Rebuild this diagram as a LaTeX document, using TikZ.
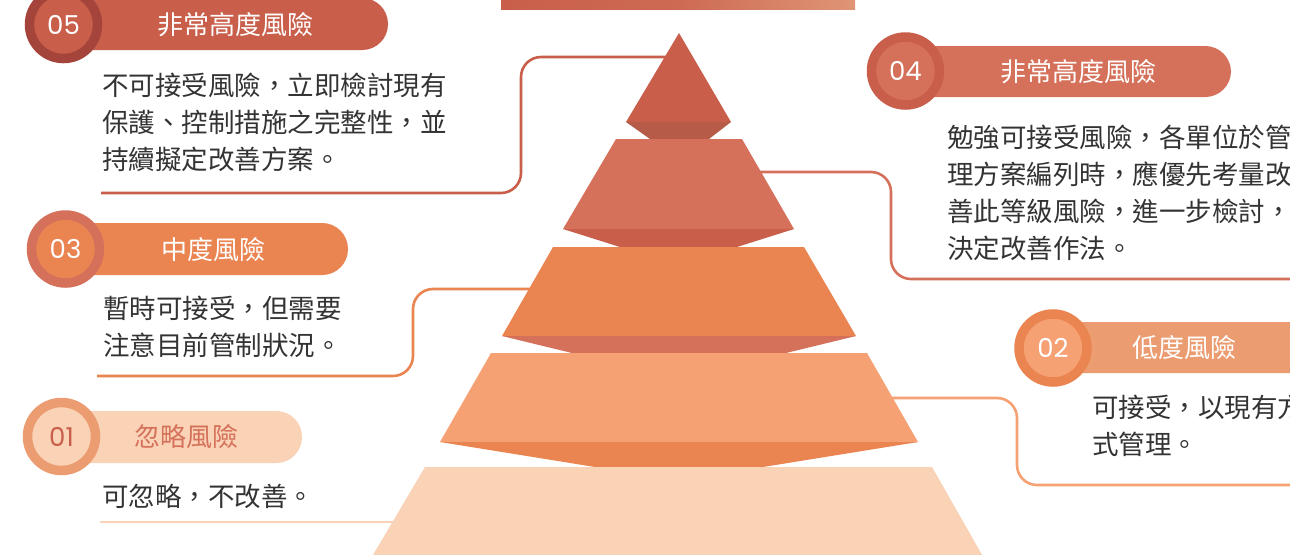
\documentclass[tikz,border=0pt]{standalone}
\usepackage{fontspec}
\setmainfont{Noto Sans CJK TC}
\newfontfamily\numfont{Poppins}
\usetikzlibrary{positioning}

\definecolor{lvfive}{HTML}{C95F4B}
\definecolor{lvfivedk}{HTML}{B65B48}
\definecolor{lvring}{HTML}{A4443A}
\definecolor{lvfour}{HTML}{D5715A}
\definecolor{lvthree}{HTML}{EA8552}
\definecolor{lvtwo}{HTML}{F6A174}
\definecolor{lvtwopill}{HTML}{EC9C71}
\definecolor{lvone}{HTML}{FAD2B6}
\definecolor{barend}{HTML}{DF9576}
\definecolor{ink}{HTML}{333333}

\begin{document}
\begin{tikzpicture}[
  x=0.5pt, y=-0.5pt,
  badge/.style={circle, minimum size=34pt, line width=4.75pt, inner sep=0pt,
                font=\numfont\fontsize{13pt}{13pt}\selectfont, text=white},
  pill/.style={rectangle, rounded corners=12.9pt, minimum height=26pt, inner sep=0pt},
  title/.style={inner sep=0pt, text=white, font=\fontsize{13pt}{13pt}\selectfont},
  desc/.style={anchor=north west, align=left, inner sep=0pt, text=ink,
               font=\fontsize{13.25pt}{18.5pt}\selectfont},
  conn/.style={line width=1.3pt, rounded corners=10pt},
]
  \fill[white] (0,0) rectangle (1290,554);
  \clip (0,0) rectangle (1290,554);

  % connector end points
  \coordinate (t5) at (679,57);
  \coordinate (k5) at (521,193);
  \coordinate (e5) at (101,193);
  \coordinate (t4) at (700,172);
  \coordinate (k4) at (891,279);
  \coordinate (e4) at (1300,279);
  \coordinate (t3) at (679,289);
  \coordinate (k3) at (413,376);
  \coordinate (e3) at (97,376);
  \coordinate (t2) at (679,398);
  \coordinate (k2) at (1017,485);
  \coordinate (e2) at (1300,485);
  \coordinate (t1) at (679,522);
  \coordinate (e1) at (100,522);

  \draw[conn, lvfive] (t5) -| (k5) -- (e5);
  \draw[conn, lvfour] (t4) -| (k4) -- (e4);
  \draw[conn, lvthree] (t3) -| (k3) -- (e3);
  \draw[conn, lvtwo] (t2) -| (k2) -- (e2);
  \draw[conn, lvone] (t1) -- (e1);

  % pyramid
  \fill[lvfive] (679,33) -- (731,122) -- (626,122) -- cycle;
  \fill[lvfivedk] (626,122) -- (731,122) -- (709,139) -- (650,139) -- cycle;
  \fill[lvfour] (616,139) -- (742,139) -- (794,229) -- (563,229) -- cycle;
  \fill[lvfive] (563,229) -- (794,229) -- (737,247) -- (620,247) -- cycle;
  \fill[lvthree] (553,247) -- (804,247) -- (856,336) -- (502,336) -- cycle;
  \fill[lvfour] (502,336) -- (856,336) -- (786,353) -- (572,353) -- cycle;
  \fill[lvtwo] (491,353) -- (867,353) -- (918,442) -- (440,442) -- cycle;
  \fill[lvthree] (440,442) -- (918,442) -- (763,467) -- (595,467) -- cycle;
  \fill[lvone] (425,467) -- (932,467) -- (985,560) -- (370,560) -- cycle;

  \shade[left color=lvfive, right color=barend, middle color=lvfive!80!barend]
    (501,-5) rectangle (855,9);

  % labels
  \node[pill, fill=lvfive, minimum width=174pt] (p5) at (214,24) {};
  \node[badge, fill=lvfive, draw=lvring] (b5) at (63.5,24.5) {05};
  \node[title] (h5) at (235,25) {非常高度風險};
  \node[desc] (d5) at (102,73) {不可接受風險，立即檢討現有\\保護、控制措施之完整性，並\\持續擬定改善方案。};

  \node[pill, fill=lvfour, minimum width=163pt, minimum height=25.5pt] (p4) at (1068,71.5) {};
  \node[badge, fill=lvfour, draw=lvfive] (b4) at (905.5,71) {04};
  \node[title] (h4) at (1078,72) {非常高度風險};
  \node[desc] (d4) at (947,125) {勉強可接受風險，各單位於管\\理方案編列時，應優先考量改\\善此等級風險，進一步檢討，\\決定改善作法。};

  \node[pill, fill=lvthree, minimum width=141.5pt] (p3) at (206.5,249) {};
  \node[badge, fill=lvthree, draw=lvfour] (b3) at (65.5,249) {03};
  \node[title] (h3) at (213,250) {中度風險};
  \node[desc] (d3) at (103,296) {暫時可接受，但需要\\注意目前管制狀況。};

  \node[pill, fill=lvtwopill, minimum width=143.5pt, minimum height=25.5pt] (p2) at (1196.5,347.5) {};
  \node[badge, fill=lvtwo, draw=lvthree] (b2) at (1053,348) {02};
  \node[title] (h2) at (1184,348) {低度風險};
  \node[desc] (d2) at (1092,395) {可接受，以現有方\\式管理。};

  \node[pill, fill=lvone, minimum width=120.5pt] (p1) at (181.5,437) {};
  \node[badge, fill=lvone, draw=lvtwopill, text=lvfive] (b1) at (61.5,436.5) {01};
  \node[title, text=lvfour] (h1) at (186,437) {忽略風險};
  \node[desc] (d1) at (102,484) {可忽略，不改善。};
\end{tikzpicture}
\end{document}
